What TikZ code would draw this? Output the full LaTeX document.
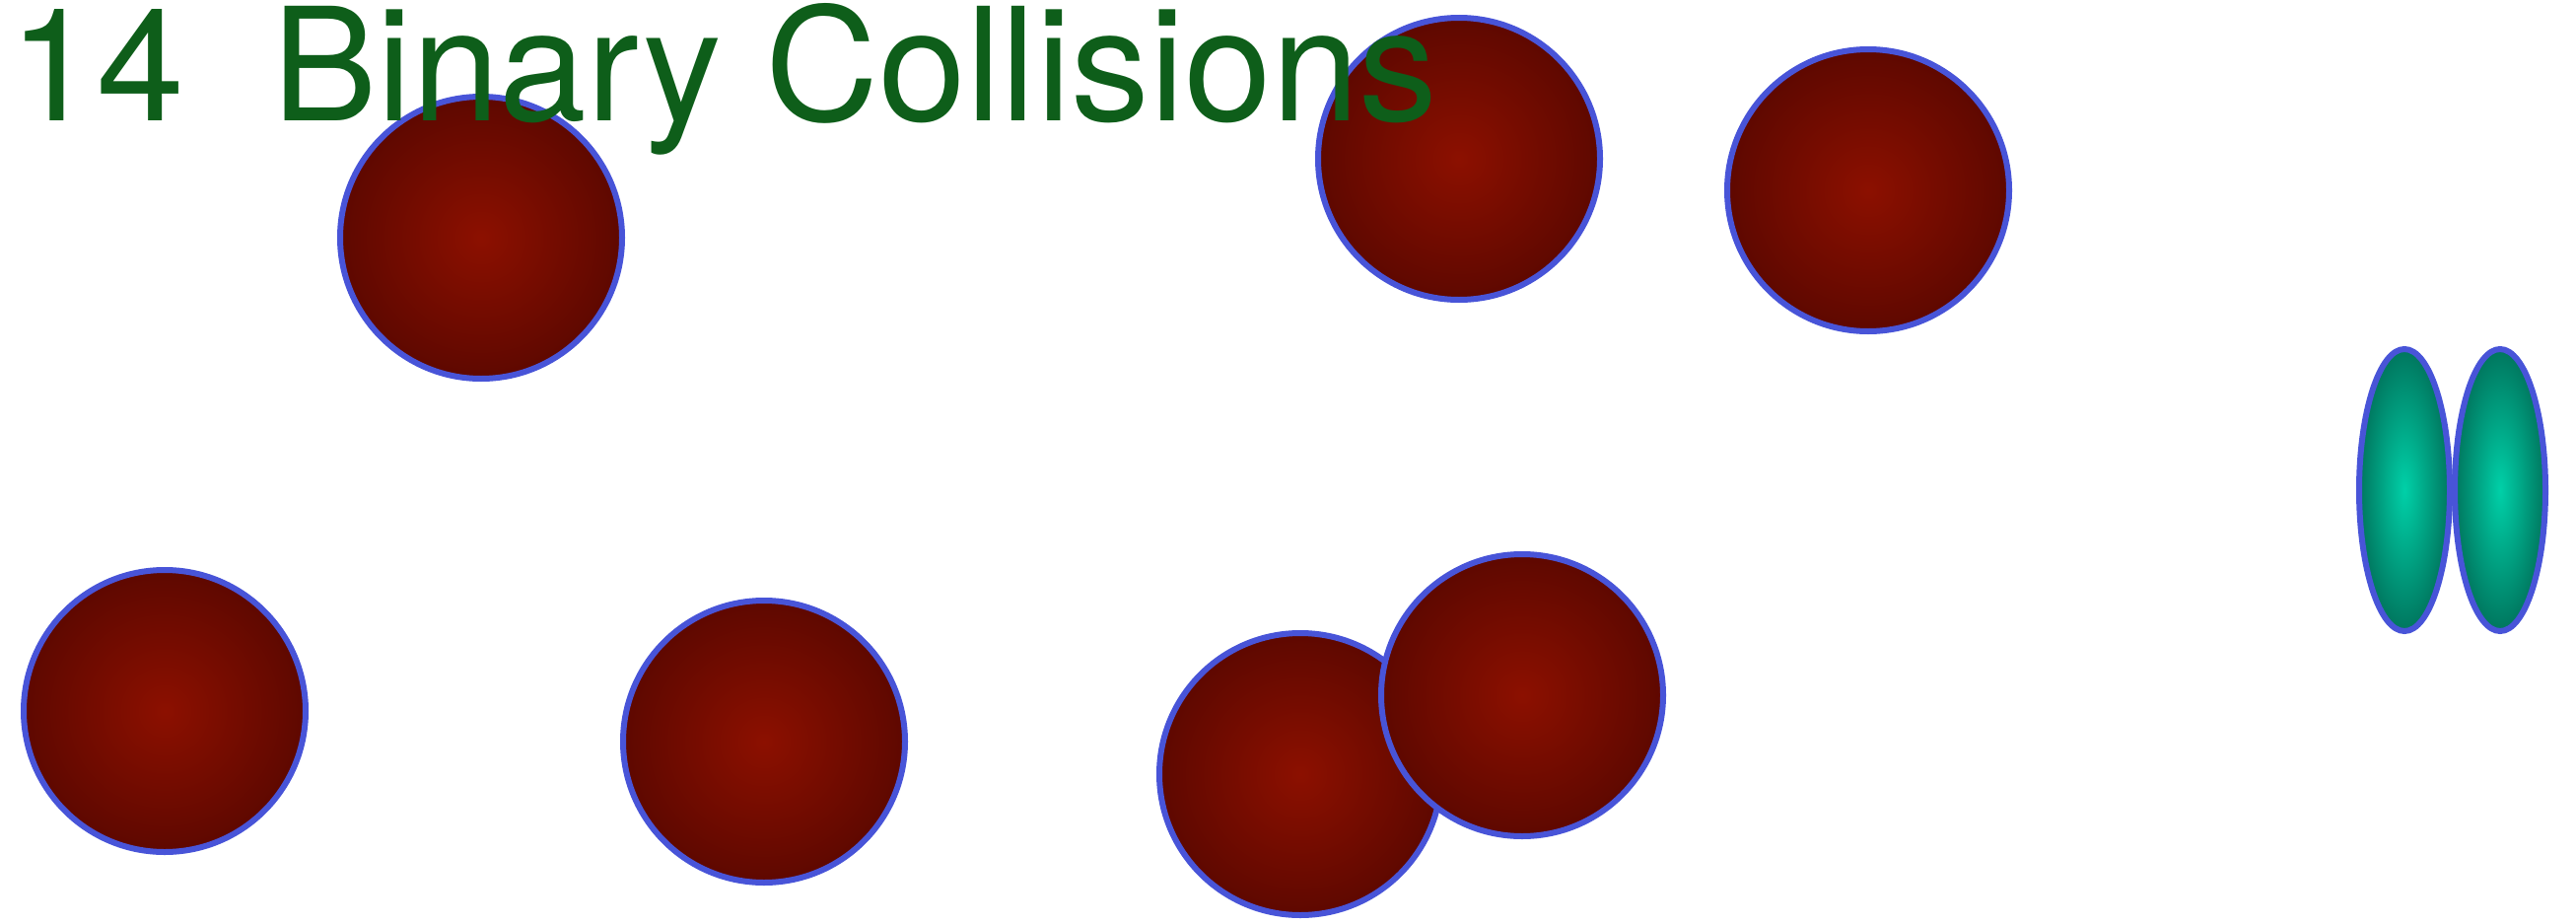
\documentclass[tikz,border=0pt]{standalone}
\usepackage{fontspec}
\setmainfont{TeX Gyre Heros}
\definecolor{redin}{RGB}{140,16,0}
\definecolor{redout}{RGB}{94,8,0}
\definecolor{tealin}{RGB}{0,208,168}
\definecolor{tealout}{RGB}{0,118,94}
\definecolor{rimblue}{RGB}{72,84,216}
\definecolor{titlegreen}{RGB}{14,94,26}
\pgfdeclareradialshading{redball}{\pgfpoint{0bp}{0bp}}{color(0bp)=(redin); color(25bp)=(redout); color(50bp)=(redout)}
\pgfdeclareradialshading{tealball}{\pgfpoint{0bp}{0bp}}{color(0bp)=(tealin); color(25bp)=(tealout); color(50bp)=(tealout)}
\tikzset{
  ball/.style={circle, draw=rimblue, line width=3pt, shading=redball, minimum size=143pt, inner sep=0pt, outer sep=0pt},
  disc/.style={ellipse, draw=rimblue, line width=3pt, shading=tealball, minimum width=46pt, minimum height=143pt, inner sep=0pt, outer sep=0pt},
  titletext/.style={text=titlegreen, inner sep=0pt, anchor=base west, font=\fontsize{79.7}{80}\selectfont}
}
\usetikzlibrary{shapes.geometric}
\begin{document}
\begin{tikzpicture}[x=0.5pt, y=-0.5pt]
\useasboundingbox (0,0) rectangle (2613,937);
\node[ball] (b1) at (488,241) {};
\node[ball] (b2) at (1480,161) {};
\node[ball] (b3) at (1895,193) {};
\node[ball] (b4) at (167,721) {};
\node[ball] (b5) at (775,752) {};
\node[ball] (b6) at (1319,785) {};
\node[ball] (b7) at (1544,705) {};
\node[disc] (e1) at (2439,497) {};
\node[disc] (e2) at (2536,497) {};
\node[titletext] (title) at (9,122) {14\hspace{45pt}Binary Collisions};
\end{tikzpicture}
\end{document}
